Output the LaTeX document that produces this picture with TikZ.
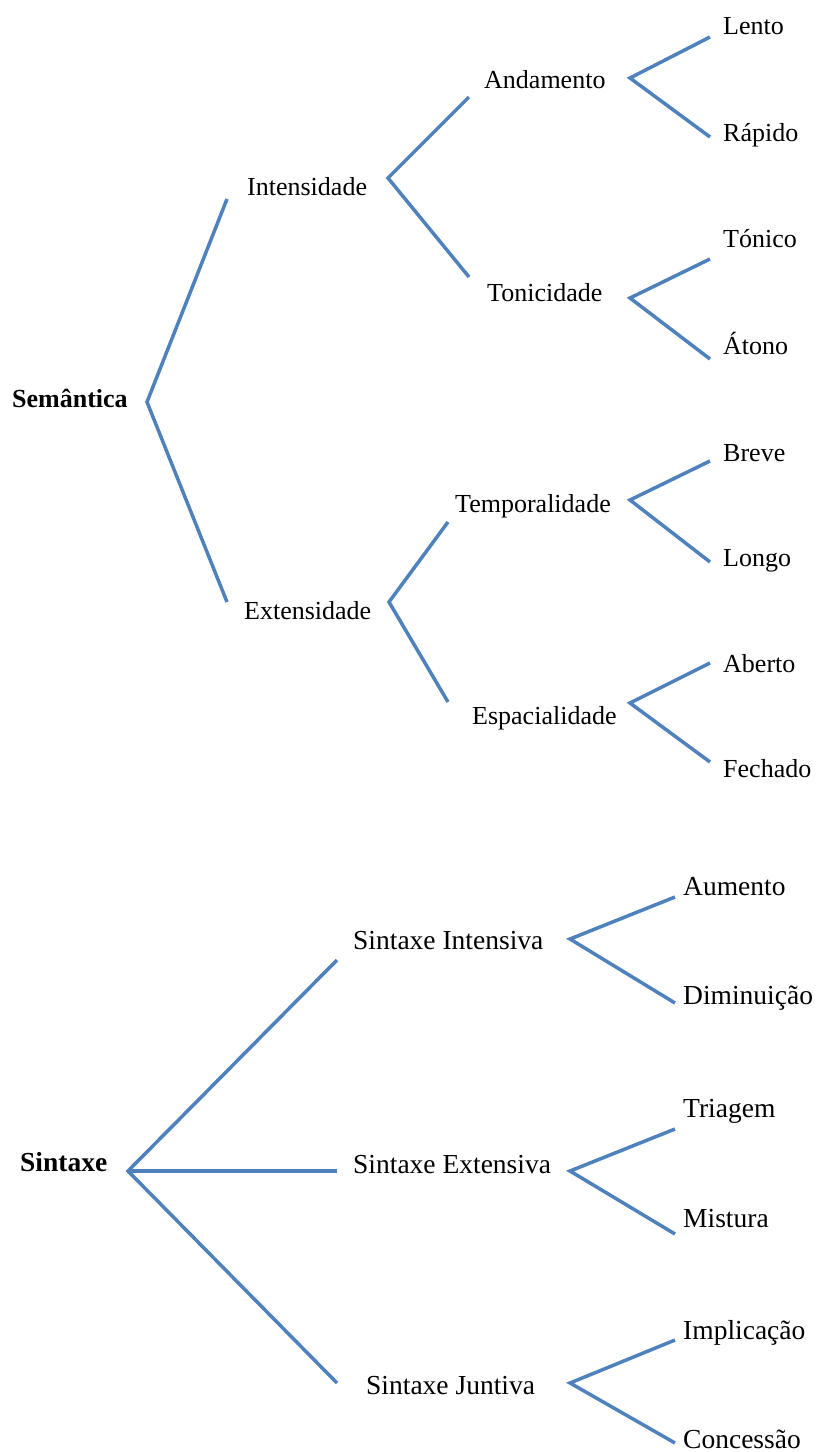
\documentclass[tikz,border=0pt]{standalone}
\usepackage{fontspec}
\setmainfont{Liberation Serif}
\usepackage{tikz}
\definecolor{branchblue}{RGB}{79,129,189}

\begin{document}
\begin{tikzpicture}[x=1pt, y=-1pt,
        branch/.style={draw=branchblue, line width=3.5pt},
        term/.style={anchor=base west, inner sep=0pt, font=\fontsize{26}{30}\selectfont},
        sterm/.style={anchor=base west, inner sep=0pt, font=\fontsize{27.5}{32}\selectfont},
        root/.style={term, font=\fontsize{26}{30}\selectfont\bfseries}]
        \useasboundingbox (0,0) rectangle (816,1452);

        % Semantica
        \node[root] (sem) at (12,407) {Semântica};
        \node[term] (int) at (247,195) {Intensidade};
        \node[term] (ext) at (244,619) {Extensidade};
        \node[term] (and) at (484,88) {Andamento};
        \node[term] (ton) at (487,301) {Tonicidade};
        \node[term] (tem) at (455,512) {Temporalidade};
        \node[term] (esp) at (472,724) {Espacialidade};
        \node[term] (lento) at (723,34) {Lento};
        \node[term] (rapido) at (723,141) {Rápido};
        \node[term] (tonico) at (723,247) {Tónico};
        \node[term] (atono) at (723,354) {Átono};
        \node[term] (breve) at (723,461) {Breve};
        \node[term] (longo) at (723,566) {Longo};
        \node[term] (aberto) at (723,672) {Aberto};
        \node[term] (fechado) at (723,777) {Fechado};

        \coordinate (semv) at (147,402);
        \coordinate (intv) at (388,178);
        \coordinate (extv) at (389,602);
        \coordinate (andv) at (630,78);
        \coordinate (tonv) at (630,298);
        \coordinate (temv) at (630,500);
        \coordinate (espv) at (630,703);

        \draw[branch] (227,199) -- (semv) -- (227,602);
        \draw[branch] (469,97) -- (intv) -- (469,277);
        \draw[branch] (448,522) -- (extv) -- (448,702);
        \draw[branch] (710,37) -- (andv) -- (710,137);
        \draw[branch] (710,259) -- (tonv) -- (710,359);
        \draw[branch] (710,461) -- (temv) -- (710,562);
        \draw[branch] (710,663) -- (espv) -- (710,762);

        % Sintaxe
        \node[root, font=\fontsize{27.5}{32}\selectfont\bfseries] (sin) at (20,1171) {Sintaxe};
        \node[sterm] (sint) at (353,949) {Sintaxe Intensiva};
        \node[sterm] (sext) at (353,1173) {Sintaxe Extensiva};
        \node[sterm] (sjun) at (366,1394) {Sintaxe Juntiva};
        \node[sterm] (aum) at (683,895) {Aumento};
        \node[sterm] (dim) at (683,1004) {Diminuição};
        \node[sterm] (tri) at (683,1117) {Triagem};
        \node[sterm] (mis) at (683,1227) {Mistura};
        \node[sterm] (imp) at (683,1339) {Implicação};
        \node[sterm] (con) at (683,1448) {Concessão};

        \coordinate (sinv) at (128,1171);
        \coordinate (sintv) at (570,939);
        \coordinate (sextv) at (570,1171);
        \coordinate (sjunv) at (570,1383);

        \draw[branch] (337,960) -- (sinv) -- (337,1383);
        \draw[branch] (sinv) -- (337,1171);
        \draw[branch] (675,897) -- (sintv) -- (675,1003);
        \draw[branch] (675,1129) -- (sextv) -- (675,1234);
        \draw[branch] (675,1340) -- (sjunv) -- (675,1443);
    \end{tikzpicture}
\end{document}
